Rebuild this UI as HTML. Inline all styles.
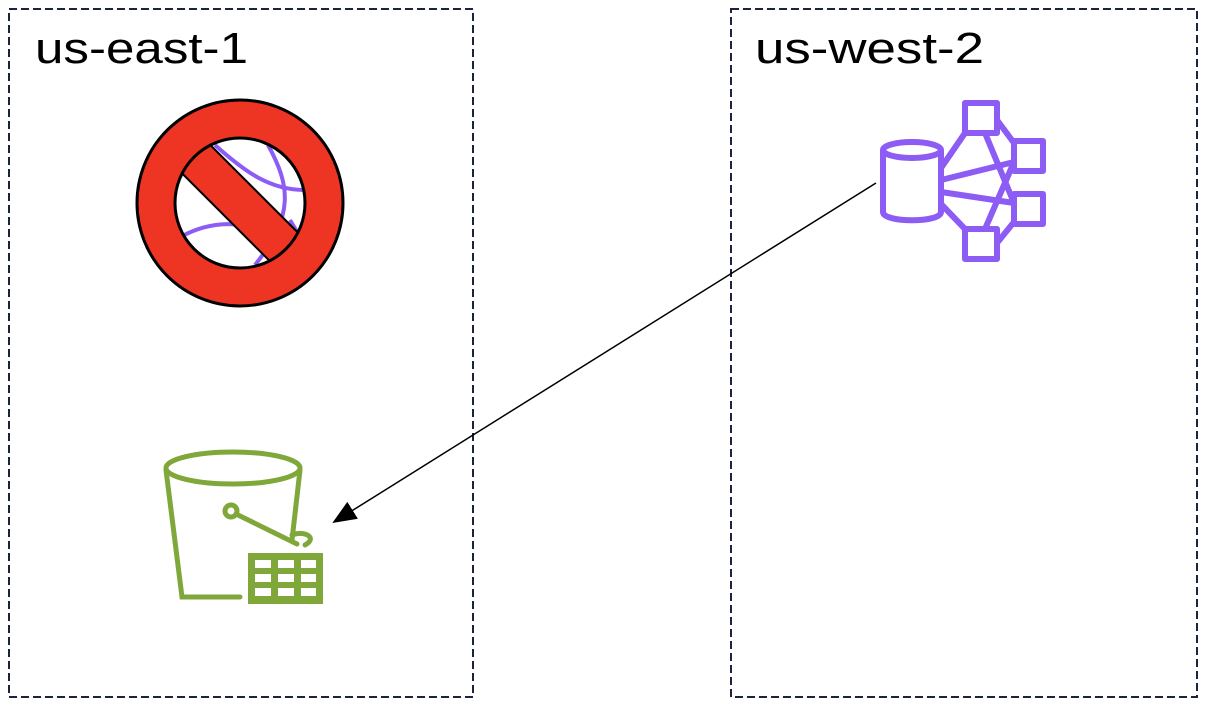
<!DOCTYPE html>
<html><head><meta charset="utf-8"><style>html,body{margin:0;padding:0;background:#fff;}svg{display:block}</style></head>
<body>
<svg width="1206" height="707" viewBox="0 0 1206 707" xmlns="http://www.w3.org/2000/svg">
<defs>
<marker id="ah" markerWidth="24" markerHeight="20" refX="22" refY="10" orient="auto" markerUnits="userSpaceOnUse">
<path d="M0,0 L24,10 L0,20 Z" fill="#000"/>
</marker>
<clipPath id="inner"><circle cx="240" cy="203" r="65"/></clipPath>
</defs>
<rect x="9" y="9" width="464" height="688" fill="none" stroke="#1b2340" stroke-width="2" stroke-dasharray="8,4"/>
<rect x="731" y="9" width="466" height="688" fill="none" stroke="#1b2340" stroke-width="2" stroke-dasharray="8,4"/>
<text x="35" y="63" font-family="Liberation Sans, sans-serif" font-size="44" textLength="213" lengthAdjust="spacingAndGlyphs">us-east-1</text>
<text x="755" y="63" font-family="Liberation Sans, sans-serif" font-size="44" textLength="229" lengthAdjust="spacingAndGlyphs">us-west-2</text>

<g>
<circle cx="240" cy="203" r="103" fill="#ee3524" stroke="#000" stroke-width="3"/>
<circle cx="240" cy="203" r="65" fill="#fff"/>
<g fill="none" stroke="#8c5cf5" stroke-width="4" clip-path="url(#inner)">
<path d="M175,240 C205,222 240,218 262,235"/>
<path d="M215,145 C245,172 270,190 305,190"/>
<path d="M268,145 C290,185 295,215 255,265"/>
<path d="M290,220 L302,240"/>
</g>
<g clip-path="url(#inner)">
<line x1="140" y1="103" x2="340" y2="303" stroke="#000" stroke-width="42"/>
<line x1="140" y1="103" x2="340" y2="303" stroke="#ee3524" stroke-width="38"/>
</g>
<circle cx="240" cy="203" r="65" fill="none" stroke="#000" stroke-width="3"/>
</g>

<g fill="none" stroke="#8c5cf5" stroke-width="6" stroke-linejoin="round">
<ellipse cx="912" cy="150" rx="29" ry="8"/>
<path d="M883,150 V212 C883,223 941,223 941,212 V150"/>
<rect x="965" y="103" width="32" height="30"/>
<rect x="1014" y="141" width="29" height="30"/>
<rect x="1014" y="194" width="29" height="30"/>
<rect x="965" y="229" width="32" height="30"/>
<path d="M941,168 L965,133 M941,180 L1014,162 M941,192 L1014,203 M941,204 L965,229 M997,120 L1014,143 M997,243 L1014,222 M985,133 L1014,203 M985,229 L1014,162"/>
</g>

<line x1="876" y1="183" x2="334" y2="522" stroke="#000" stroke-width="1.5" marker-end="url(#ah)"/>

<g fill="none" stroke="#7fa73a" stroke-width="5" stroke-linecap="round">
<ellipse cx="233" cy="468" rx="67" ry="16"/>
<path d="M166,470 L182,597 L240,597"/>
<path d="M300,470 L292,540"/>
<circle cx="231" cy="511" r="6"/>
<path d="M236,514 L297,544"/>
<path d="M292,535 C305,530 318,538 305,545"/>
</g>
<rect x="248" y="553" width="75" height="51" fill="#7fa73a"/>
<g fill="#fff">
<rect x="255" y="560" width="16" height="8"/><rect x="278" y="560" width="16" height="8"/><rect x="301" y="560" width="15" height="8"/>
<rect x="255" y="574" width="16" height="8"/><rect x="278" y="574" width="16" height="8"/><rect x="301" y="574" width="15" height="8"/>
<rect x="255" y="588" width="16" height="8"/><rect x="278" y="588" width="16" height="8"/><rect x="301" y="588" width="15" height="8"/>
</g>
</svg>
</body></html>
